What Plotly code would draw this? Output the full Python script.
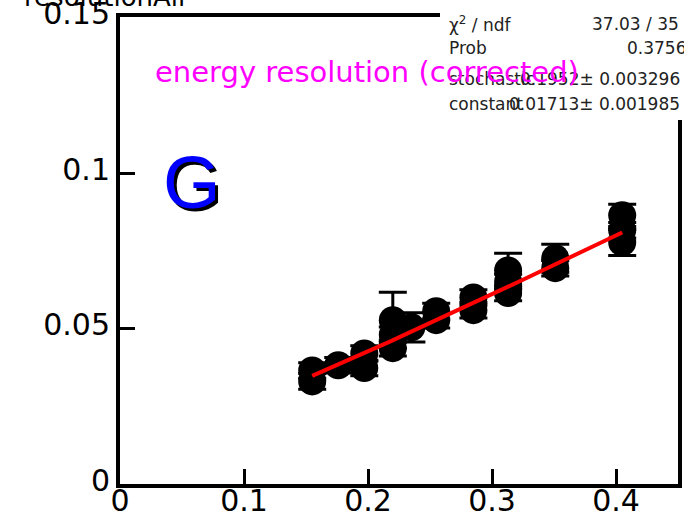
import numpy as np
import plotly.graph_objects as go

# Measured points: 1/sqrt(E) vs. relative energy resolution
inv_sqrt_e = [0.155, 0.155, 0.176, 0.197, 0.197, 0.220, 0.220, 0.220, 0.235,
              0.255, 0.255, 0.285, 0.285, 0.313, 0.313, 0.313, 0.351, 0.351,
              0.405, 0.405, 0.405]
resolution = [0.0365, 0.0330, 0.0382, 0.0420, 0.0373, 0.0527, 0.0480, 0.0437, 0.0504,
              0.0556, 0.0527, 0.0600, 0.0559, 0.0687, 0.0650, 0.0614, 0.0726, 0.0694,
              0.0864, 0.0816, 0.0777]
resolution_err = [0.0025, 0.0025, 0.0025, 0.0025, 0.0025, 0.0090, 0.0025, 0.0025, 0.0047,
                  0.0025, 0.0025, 0.0025, 0.0025, 0.0055, 0.0025, 0.0025, 0.0045, 0.0025,
                  0.0036, 0.0025, 0.0042]

# Fit result: sigma/E = stochastic * x (+) constant
stochastic = 0.1952
stochastic_err = 0.003296
constant = 0.01713
constant_err = 0.001985
chi2, ndf, prob = 37.03, 35, 0.3756
fit_range = [0.155, 0.405]

x_ticks = [0, 0.1, 0.2, 0.3, 0.4]
x_ticktext = ["0", "0.1", "0.2", "0.3", "0.4"]
y_ticks = [0, 0.05, 0.1, 0.15]
y_ticktext = ["0", "0.05", "0.1", "0.15"]

fit_x = np.linspace(fit_range[0], fit_range[1], 60)
fit_y = np.sqrt((stochastic * fit_x) ** 2 + constant ** 2)

W, H = 684, 527
ML, MR, MT, MB = 120, 6, 17, 43
PW, PH = W - ML - MR, H - MT - MB


def px(x):
    return (x - ML) / PW


def py(y):
    return (H - MB - y) / PH


fig = go.Figure()
fig.add_trace(go.Scatter(
    x=inv_sqrt_e, y=resolution, mode="markers",
    marker=dict(color="black", size=28, symbol="circle"),
    error_y=dict(type="data", array=resolution_err, color="black", thickness=3, width=14),
    showlegend=False,
))
fig.add_trace(go.Scatter(
    x=fit_x, y=fit_y, mode="lines",
    line=dict(color="#ff0000", width=4),
    showlegend=False,
))

axis_font = dict(family="DejaVu Sans", size=30, color="black")
common = dict(showline=True, linecolor="black", linewidth=4, mirror=True,
              ticks="inside", ticklen=15, tickwidth=3, tickcolor="black",
              showgrid=False, zeroline=False, tickfont=axis_font,
              automargin=False, ticklabeloverflow="allow")
fig.update_xaxes(range=[0, 0.45], tickvals=x_ticks, ticktext=x_ticktext,
                 ticklabelstandoff=-13, **common)
fig.update_yaxes(range=[0, 0.1502], tickvals=y_ticks, ticktext=y_ticktext,
                 ticklabelshift=-4, **common)

# statistics box
fig.add_shape(type="rect", xref="paper", yref="paper",
              x0=px(440), x1=px(700), y0=py(120), y1=py(-5),
              fillcolor="white", line=dict(width=0), layer="above")

stat_font = dict(family="DejaVu Sans", size=17, color="#222222")
rows = [
    ("χ<sup>2</sup> / ndf", f"{chi2:.2f} / {ndf}", 24, 681),
    ("Prob", f"{prob:.4f}", 48, 688),
    ("stochastic", f"{stochastic:.4f}± {stochastic_err:.6f}", 79, 682),
    ("constant", f"{constant:.5f}± {constant_err:.6f}", 104, 682),
]
ann = []
for label, value, yc, xr in rows:
    ann.append(dict(text=label, x=px(447), y=py(yc), xref="paper", yref="paper",
                    xanchor="left", yanchor="middle", showarrow=False, font=stat_font))
    ann.append(dict(text=value, x=px(xr), y=py(yc), xref="paper", yref="paper",
                    xanchor="right", yanchor="middle", showarrow=False, font=stat_font))

ann.append(dict(text="energy resolution (corrected)", x=px(153), y=py(72),
                xref="paper", yref="paper", xanchor="left", yanchor="middle",
                showarrow=False, font=dict(family="DejaVu Sans", size=29, color="#ff00ff")))
# big "G" with a dark drop shadow
for dx, dy, col in [(3, 3, "black"), (0, 0, "#0000ff")]:
    ann.append(dict(text="G", x=px(192 + dx), y=py(182 + dy), xref="paper", yref="paper",
                    xanchor="center", yanchor="middle", showarrow=False,
                    font=dict(family="Liberation Sans", size=74, color=col)))
ann.append(dict(text="resolutionAll", x=px(22), y=py(14), xref="paper", yref="paper",
                xanchor="left", yanchor="bottom", showarrow=False,
                font=dict(family="DejaVu Sans", size=26, color="black")))

fig.update_layout(
    width=W, height=H,
    margin=dict(l=ML, r=MR, t=MT, b=MB),
    paper_bgcolor="white", plot_bgcolor="white",
    annotations=ann,
)

fig.write_html("out.html")
